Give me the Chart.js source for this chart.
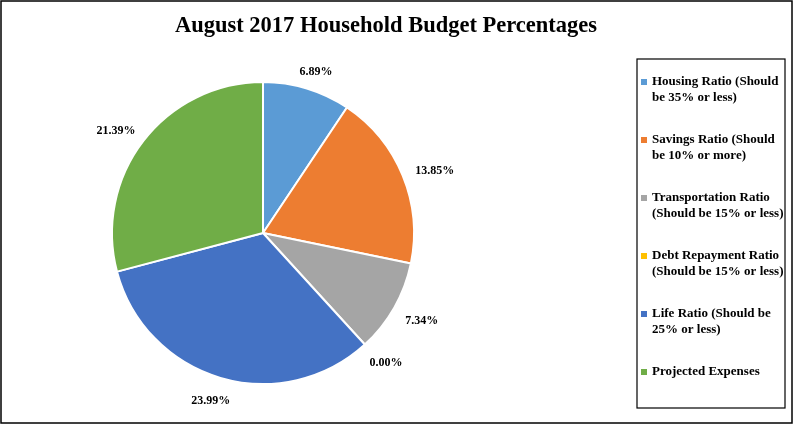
<!DOCTYPE html>
<html>
<head>
<meta charset="utf-8">
<script src="https://cdn.jsdelivr.net/npm/chart.js@4"></script>
<style>
  html, body { margin: 0; padding: 0; background: #ffffff; }
  canvas { display: block; }
</style>
</head>
<body>
<canvas id="c" width="793" height="425"></canvas>
<script>
const chartTitle = "August 2017 Household Budget Percentages";
const categories = [
  "Housing Ratio (Should be 35% or less)",
  "Savings Ratio (Should be 10% or more)",
  "Transportation Ratio (Should be 15% or less)",
  "Debt Repayment Ratio (Should be 15% or less)",
  "Life Ratio (Should be 25% or less)",
  "Projected Expenses"
];
const percentages = [6.89, 13.85, 7.34, 0.00, 23.99, 21.39];
const sliceColors = ["#5B9BD5", "#ED7D31", "#A5A5A5", "#FFC000", "#4472C4", "#70AD47"];

const FONT = "'Liberation Serif', 'Times New Roman', serif";

function wrapText(ctx, text, maxWidth) {
  const words = text.split(' ');
  const lines = [];
  let cur = '';
  for (const w of words) {
    const test = cur ? cur + ' ' + w : w;
    if (ctx.measureText(test).width > maxWidth && cur) {
      lines.push(cur);
      cur = w;
    } else {
      cur = test;
    }
  }
  if (cur) lines.push(cur);
  return lines;
}

const decorPlugin = {
  id: 'decor',
  beforeDraw(chart) {
    const ctx = chart.ctx;
    ctx.save();
    ctx.fillStyle = '#ffffff';
    ctx.fillRect(0, 0, chart.width, chart.height);
    ctx.strokeStyle = '#000000';
    ctx.lineWidth = 1.5;
    ctx.strokeRect(1, 1, chart.width - 2, chart.height - 3);
    ctx.restore();
  },
  afterDraw(chart) {
    const ctx = chart.ctx;
    ctx.save();
    // title
    ctx.fillStyle = '#000000';
    ctx.font = "bold 22.5px " + FONT;
    ctx.textAlign = 'center';
    ctx.textBaseline = 'middle';
    ctx.fillText(chartTitle, 386, 26);

    // data labels (outside end)
    const meta = chart.getDatasetMeta(0);
    ctx.font = "bold 12px " + FONT;
    meta.data.forEach((arc, i) => {
      const p = arc.getProps(['x', 'y', 'startAngle', 'endAngle', 'outerRadius'], true);
      const mid = (p.startAngle + p.endAngle) / 2;
      const c = Math.cos(mid), s = Math.sin(mid);
      const txt = percentages[i].toFixed(2) + '%';
      const w = ctx.measureText(txt).width;
      const h = 12;
      const ax = p.x + c * (p.outerRadius + 15);
      const ay = p.y + s * (p.outerRadius + 15);
      ctx.fillText(txt, ax + c * w / 2, ay + s * h / 2 + 3);
    });

    // legend
    const lx = 637, ly = 59, lw = 148, lh = 349;
    ctx.strokeStyle = '#000000';
    ctx.lineWidth = 1.2;
    ctx.strokeRect(lx, ly, lw, lh);
    ctx.font = "bold 13px " + FONT;
    ctx.textAlign = 'left';
    categories.forEach((label, i) => {
      const y0 = 82 + i * 58;
      ctx.fillStyle = sliceColors[i];
      ctx.fillRect(641, y0 - 3, 6, 6);
      ctx.fillStyle = '#000000';
      const lines = wrapText(ctx, label, 135);
      lines.forEach((ln, j) => ctx.fillText(ln, 652, y0 + j * 15.5));
    });
    ctx.restore();
  }
};

new Chart(document.getElementById('c'), {
  type: 'pie',
  data: {
    labels: categories,
    datasets: [{
      data: percentages,
      backgroundColor: sliceColors,
      borderColor: '#ffffff',
      borderWidth: 2
    }]
  },
  options: {
    responsive: false,
    animation: false,
    layout: { padding: { left: 111, right: 378, top: 81, bottom: 40 } },
    plugins: {
      legend: { display: false },
      title: { display: false },
      tooltip: { enabled: false }
    }
  },
  plugins: [decorPlugin]
});
</script>
</body>
</html>
